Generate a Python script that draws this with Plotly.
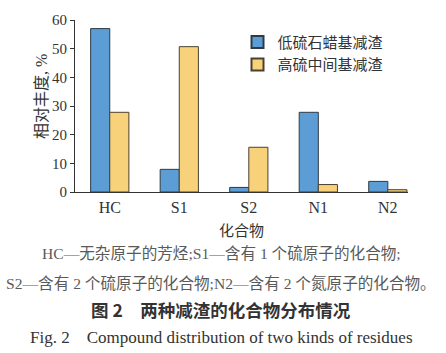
import plotly.graph_objects as go

categories = ["HC", "S1", "S2", "N1", "N2"]
low_sulfur = [57.0, 7.9, 1.6, 27.8, 3.7]
high_sulfur = [27.8, 50.7, 15.6, 2.6, 0.8]
series_names = ["低硫石蜡基减渣", "高硫中间基减渣"]
y_ticks = [0, 10, 20, 30, 40, 50, 60]

FONT = "Liberation Serif, Noto Serif CJK SC, Noto Sans CJK SC, serif"
CJK = "Liberation Serif, Noto Sans CJK SC, serif"

fig = go.Figure()
fig.add_trace(go.Bar(x=categories, y=low_sulfur, name=series_names[0],
                     marker=dict(color="#5c9dd6", line=dict(color="#2f3a44", width=1))))
fig.add_trace(go.Bar(x=categories, y=high_sulfur, name=series_names[1],
                     marker=dict(color="#f8d27b", line=dict(color="#4a4030", width=1))))

W, H = 446, 353
L, R, T, B = 75, 38, 12, 161
ph = H - T - B
pw = W - L - R

def py(pix):
    return (H - B - pix) / ph

def px(pix):
    return (pix - L) / pw

fig.update_layout(
    width=W, height=H,
    margin=dict(l=L, r=R, t=T, b=B),
    paper_bgcolor="white", plot_bgcolor="white",
    barmode="group", bargap=0.45, bargroupgap=0,
    font=dict(family=CJK, size=14, color="#333333"),
    showlegend=True,
    legend=dict(x=0.488, y=py(18), xanchor="left", yanchor="top",
                bgcolor="rgba(0,0,0,0)", font=dict(size=15, family=CJK, color="#333333"),
                itemsizing="constant", tracegroupgap=0),
    xaxis=dict(range=[-0.5, 4.29], showline=True, linecolor="#333333", linewidth=1,
               ticks="", tickfont=dict(family=FONT, size=16, color="#333333"),
               ticklabelstandoff=1,
               title=dict(text="化合物", font=dict(size=15, family=CJK), standoff=10),
               showgrid=False, zeroline=False),
    yaxis=dict(range=[0, 60], tickvals=y_ticks, showline=True, linecolor="#333333", linewidth=1,
               ticks="outside", ticklen=4, tickcolor="#333333",
               tickfont=dict(family=FONT, size=15, color="#333333"),
               showgrid=False, zeroline=False),
)

# y-axis title placed as rotated annotation
fig.add_annotation(text="相对丰度, %", xref="paper", yref="paper",
                   x=px(42), y=py(92.5), xanchor="center", yanchor="middle",
                   textangle=-90, showarrow=False,
                   font=dict(size=16, family=CJK, color="#333333"))

captions = [
    ("HC—无杂原子的芳烃;S1—含有 1 个硫原子的化合物;", 256, 15.6, "#5a5a5a", CJK),
    ("S2—含有 2 个硫原子的化合物;N2—含有 2 个氮原子的化合物。", 288, 15.6, "#5a5a5a", CJK),
    ("<b>图 2　两种减渣的化合物分布情况</b>", 315, 17.5, "#333333", "Noto Sans CJK SC"),
    ("Fig. 2　Compound distribution of two kinds of residues", 344, 17, "#333333", FONT),
]
for text, ypix, size, color, fam in captions:
    fig.add_annotation(text=text, xref="paper", yref="paper",
                       x=px(221), y=py(ypix), xanchor="center", yanchor="middle",
                       showarrow=False, font=dict(size=size, color=color, family=fam))

fig.write_html("out.html")
